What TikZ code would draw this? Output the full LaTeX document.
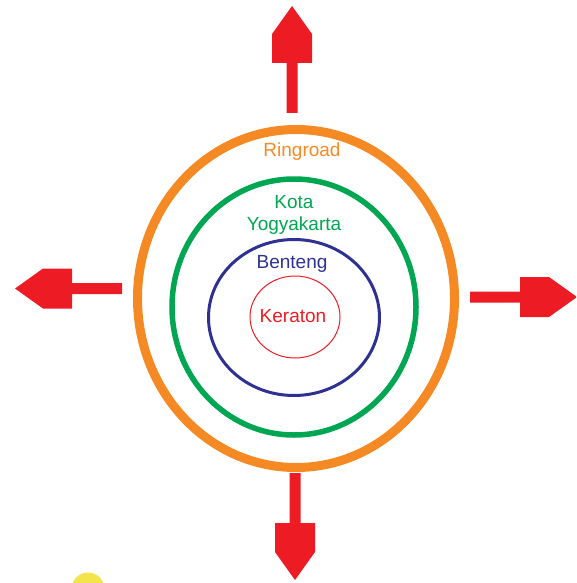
\documentclass[tikz,border=0pt]{standalone}
\usepackage{fontspec}
\setmainfont{Liberation Sans}
\usetikzlibrary{shapes.geometric,
                positioning}
\definecolor{ringorange}{HTML}{F58A24}
\definecolor{kotagreen}{HTML}{00A651}
\definecolor{bentengblue}{HTML}{2E3192}
\definecolor{keratonred}{HTML}{ED1C24}
\definecolor{sunyellow}{HTML}{F4E44B}
\tikzset{
  ring/.style={ellipse, draw, inner sep=0pt, outer sep=0pt},
  ringlabel/.style={anchor=base, align=center,
                    font=\fontsize{19}{22}\selectfont},
  outarrow/.pic={
    \fill[keratonred] (0,-5.5) -- (50,-5.5) -- (50,-20) -- (79,-20) -- (107,0)
      -- (79,20) -- (50,20) -- (50,5.5) -- (0,5.5) -- cycle;
  }
}

\begin{document}
\begin{tikzpicture}[x=1pt,y=-1pt]
 \useasboundingbox (0,0) rectangle (576,583);
 \clip (0,0) rectangle (576,583);
 % rings
 \node[ring, draw=ringorange, line width=9pt,
       minimum width=317pt, minimum height=338pt] (ringroad) at (296,298.5) {};
 \node[ring, draw=kotagreen, line width=5.5pt,
       minimum width=244pt, minimum height=256pt] (kota) at (294,307) {};
 \node[ring, draw=bentengblue, line width=3pt,
       minimum width=171pt, minimum height=156pt] (benteng) at (294,317.5) {};
 \node[ring, draw=keratonred, line width=1pt,
       minimum width=90pt, minimum height=82pt] (keraton) at (295,317) {};
 % labels (base of a two-line node is its last line)
 \node[ringlabel, text=ringorange] (ringroadtext) at (302,156) {Ringroad};
 \node[ringlabel, text=kotagreen] (kotatext) at (294,230) {Kota\\Yogyakarta};
 \node[ringlabel, text=bentengblue] (bentengtext) at (292,268) {Benteng};
 \node[ringlabel, text=keratonred] (keratontext) at (293,322) {Keraton};
 % arrows out of the ringroad
 \coordinate (northgate) at (292,113);
 \coordinate (southgate) at (295,473);
 \coordinate (westgate) at (122,288.5);
 \coordinate (eastgate) at (470,297);
 \pic[rotate=90] at (northgate) {outarrow};
 \pic[rotate=-90] at (southgate) {outarrow};
 \pic[rotate=180] at (westgate) {outarrow};
 \pic at (eastgate) {outarrow};
 % yellow dot
 \fill[sunyellow] (88,589) circle (16.5);
\end{tikzpicture}
\end{document}
